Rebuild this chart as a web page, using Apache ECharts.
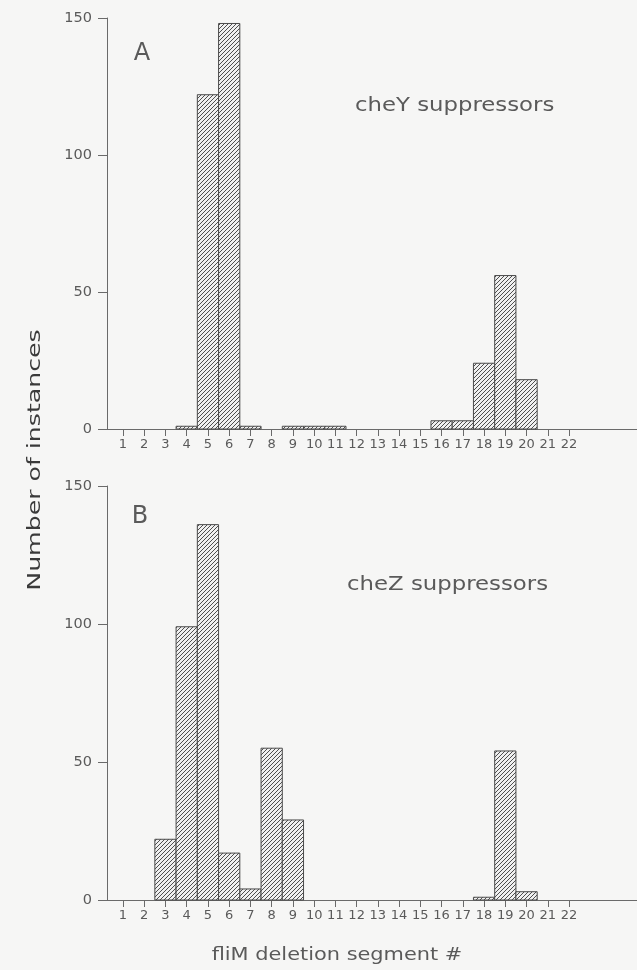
<!DOCTYPE html>
<html>
<head>
<meta charset="utf-8">
<script src="https://cdn.jsdelivr.net/npm/echarts@6/dist/echarts.min.js"></script>
<style>
html,body{margin:0;padding:0;background:#f6f6f5;}
#chart{width:637px;height:970px;}
</style>
</head>
<body>
<div id="chart"></div>
<script>
// ---- data ----
var segments = [1,2,3,4,5,6,7,8,9,10,11,12,13,14,15,16,17,18,19,20,21,22];
var cheY = [0,0,0,1,122,148,1,0,1,1,1,0,0,0,0,3,3,24,56,18,0,0];
var cheZ = [0,0,22,99,136,17,4,55,29,0,0,0,0,0,0,0,0,1,54,3,0,0];
var yTicks = [0,50,100,150];
var panelLetters = ['A','B'];
var panelTitles = ['cheY suppressors','cheZ suppressors'];
var xTitle = 'fliM deletion segment #';
var yTitle = 'Number of instances';

// ---- hatch pattern ----
function makeHatch(){
  var c = document.createElement('canvas');
  var s = 4;
  c.width = s; c.height = s;
  var g = c.getContext('2d');
  g.fillStyle = '#f0f0f0';
  g.fillRect(0,0,s,s);
  g.strokeStyle = '#4e4e4e';
  g.lineWidth = 1;
  g.beginPath();
  g.moveTo(-1, s+1); g.lineTo(s+1, -1);
  g.moveTo(-1, 1); g.lineTo(1, -1);
  g.moveTo(s-1, s+1); g.lineTo(s+1, s-1);
  g.stroke();
  return c;
}
var hatch = {image: makeHatch(), repeat: 'repeat'};

function pairs(vals){
  var out = [];
  for (var i = 0; i < segments.length; i++) {
    if (vals[i] > 0) out.push([segments[i], vals[i]]);
  }
  return out;
}

var textColor = '#5a5a5a';
var axisColor = '#6a6a6a';
var font = 'DejaVu Sans';

var grids = [
  {left:107, top:18, width:530, height:411},
  {left:107, top:486, width:530, height:414}
];

function xAxisFor(idx){
  return {
    type:'value', gridIndex:idx, min:0.247, max:25.2,
    axisLine:{show:true, onZero:false, lineStyle:{color:axisColor, width:1}},
    axisTick:{show:true, length:7, customValues:segments, lineStyle:{color:axisColor}},
    axisLabel:{show:true, customValues:segments, margin:9, color:textColor, fontFamily:font, fontSize:13},
    splitLine:{show:false}
  };
}
function topAxisFor(idx){
  return {
    type:'value', gridIndex:idx, position:'top', min:0.247, max:25.2,
    axisLine:{show:true, lineStyle:{color:axisColor, width:1}},
    axisTick:{show:false}, axisLabel:{show:false}, splitLine:{show:false}
  };
}
function yAxisFor(idx){
  return {
    type:'value', gridIndex:idx, min:0, max:150, interval:50,
    axisLine:{show:true, lineStyle:{color:axisColor, width:1}},
    axisTick:{show:true, length:9, lineStyle:{color:axisColor}},
    axisLabel:{margin:15, color:textColor, fontFamily:font, fontSize:14.5},
    splitLine:{show:false}
  };
}

function barSeries(idx, vals){
  return {
    type:'custom',
    xAxisIndex: idx*2, yAxisIndex: idx,
    data: pairs(vals),
    renderItem: function(params, api){
      var x = api.value(0), y = api.value(1);
      var p1 = api.coord([x-0.5, y]);
      var p2 = api.coord([x+0.5, 0]);
      return {
        type:'rect',
        shape:{x:p1[0], y:p1[1], width:p2[0]-p1[0], height:p2[1]-p1[1]},
        style:{fill:hatch, stroke:'#4a4a4a', lineWidth:1}
      };
    }
  };
}

function label(txt, x, y, size, sx, align, color, rot){
  return {type:'text', x:x, y:y, scaleX:sx, rotation:rot||0,
    style:{text:txt, fill:color||textColor, font:size+'px "DejaVu Sans"', align:align, verticalAlign:'middle'}};
}

var chart = echarts.init(document.getElementById('chart'));
chart.setOption({
  backgroundColor:'#f6f6f5',
  animation:false,
  grid: grids,
  xAxis: [xAxisFor(0), topAxisFor(0), xAxisFor(1), topAxisFor(1)],
  yAxis: [yAxisFor(0), yAxisFor(1)],
  series: [barSeries(0, cheY), barSeries(1, cheZ)],
  graphic: [
    label(panelLetters[0], 142, 54, 24, 1, 'center'),
    label(panelTitles[0], 355, 106, 19, 1.2, 'left'),
    label(panelLetters[1], 140, 517, 24, 1, 'center'),
    label(panelTitles[1], 347, 585, 19, 1.2, 'left'),
    label(xTitle, 337, 955, 18, 1.16, 'center'),
    label(yTitle, 35, 460, 18, 1.4, 'center', '#3a3a3a', Math.PI/2)
  ]
});
</script>
</body>
</html>
